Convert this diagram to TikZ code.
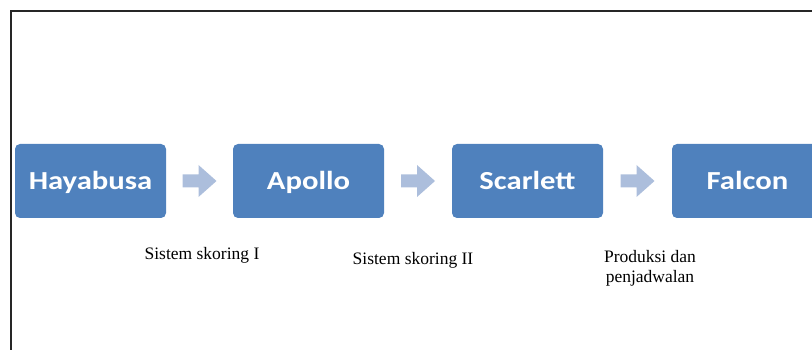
\documentclass[tikz,border=0pt]{standalone}
\usepackage{fontspec}
\setmainfont{Liberation Serif}
\newfontfamily\boxfont[FakeStretch=1.18]{Carlito}
\usetikzlibrary{calc}
\definecolor{stageBlue}{RGB}{79,129,189}
\definecolor{stepArrow}{RGB}{172,190,220}
\tikzset{stage/.style={rectangle,rounded corners=5pt,fill=stageBlue,text=white,
			minimum width=151pt,minimum height=74pt,inner sep=0pt,
			text height=16.6pt,text depth=0pt,
			font=\boxfont\bfseries\fontsize{26}{30}\selectfont},
		stepArrow/.style={fill=stepArrow},
		caption/.style={align=center,font=\fontsize{17.5}{20}\selectfont},
		frameLine/.style={line width=2pt,color=black!85}}

\begin{document}
\begin{tikzpicture}[x=1pt,y=-1pt]
	\useasboundingbox (0,0) rectangle (812,350);
	\clip (0,0) rectangle (812,350);
	%open frame
	\draw[frameLine] (11.3,352) -- (11.3,11) -- (814,11);

	\node at (90.5,181) [stage] (haya){Hayabusa};
	\node at (308.5,181) [stage] (apollo){Apollo};
	\node at (527.5,181) [stage] (scarlett){Scarlett};
	\node at (747.5,181) [stage] (falcon){Falcon};

	%block arrows halfway between the boxes
	\coordinate (a1) at ($(haya.east)!0.5!(apollo.west)$);
	\coordinate (a2) at ($(apollo.east)!0.5!(scarlett.west)$);
	\coordinate (a3) at ($(scarlett.east)!0.5!(falcon.west)$);
	\foreach \a in {a1,a2,a3}
		\fill[stepArrow,shift={(\a)}] (-17,-6.5) -- (-1,-6.5) -- (-1,-16) -- (17,0)
			-- (-1,16) -- (-1,6.5) -- (-17,6.5) -- cycle;

	\node at (202,255) [caption] (c1){Sistem skoring I};
	\node at (413,260) [caption] (c2){Sistem skoring II};
	\node at (650,268) [caption] (c3){Produksi dan\\penjadwalan};
\end{tikzpicture}
\end{document}
